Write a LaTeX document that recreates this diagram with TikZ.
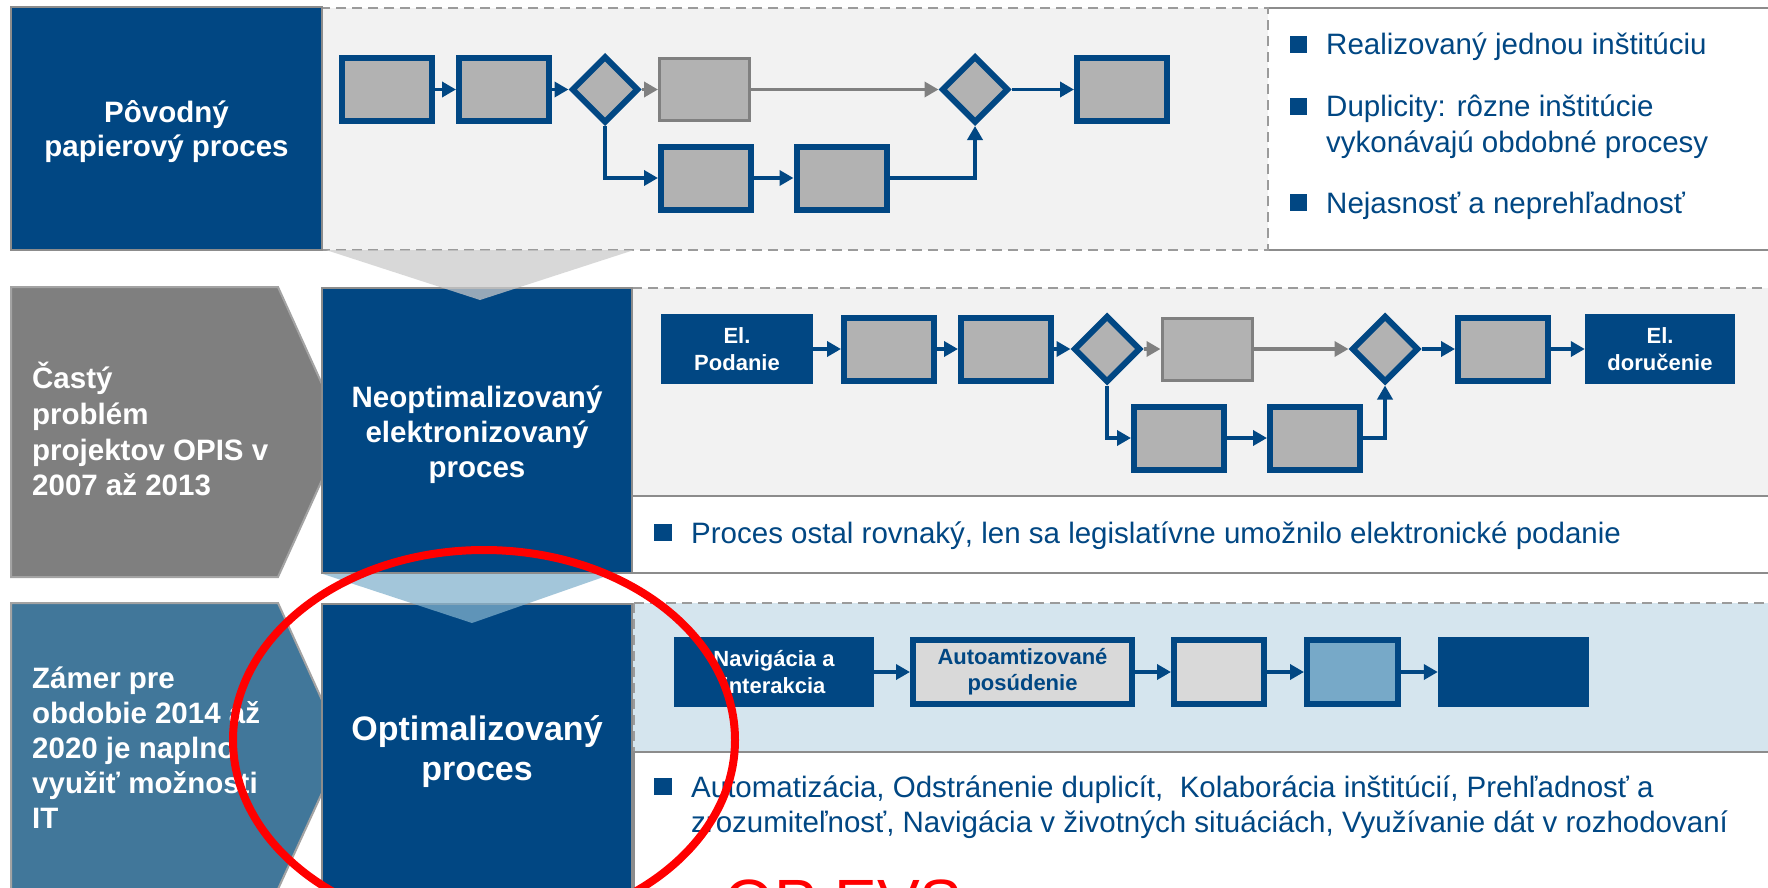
\documentclass[tikz,border=0pt]{standalone}
\usepackage{fontspec}
\setmainfont{Liberation Sans}
\usetikzlibrary{arrows.meta,shapes.geometric}
\definecolor{dblue}{RGB}{1,71,131}
\definecolor{panelgray}{RGB}{242,242,242}
\definecolor{boxgray}{RGB}{178,178,178}
\definecolor{linegray}{RGB}{140,140,140}
\definecolor{dashgray}{RGB}{155,155,155}
\definecolor{chevgray}{RGB}{127,127,127}
\definecolor{chevblue}{RGB}{65,119,154}
\definecolor{lightpanel}{RGB}{213,229,238}
\definecolor{lightbox}{RGB}{217,217,217}
\definecolor{midblue}{RGB}{119,169,200}
\definecolor{triA}{RGB}{203,203,203}
\definecolor{triB}{RGB}{130,177,205}
\definecolor{garrow}{RGB}{128,128,128}
\begin{document}
\begin{tikzpicture}[x=1pt,y=-1pt,
  bigbox/.style={fill=dblue, draw=linegray, line width=2pt, inner sep=0pt},
  pbox/.style={draw=dblue, line width=6pt, fill=boxgray, minimum width=90pt, minimum height=63pt, inner sep=0pt},
  gbox/.style={draw=garrow, line width=3pt, fill=boxgray, minimum width=90pt, minimum height=62pt, inner sep=0pt},
  dec/.style={diamond, aspect=1, draw=dblue, line width=6pt, fill=boxgray, minimum width=67pt, minimum height=67pt, inner sep=0pt},
  sbox/.style={fill=dblue, text=white, font=\bfseries\fontsize{22}{27}\selectfont, align=center, inner sep=0pt, minimum height=70pt},
  flow/.style={draw=dblue, line width=3.5pt, -{Triangle[length=14pt,width=15pt]}},
  gflow/.style={draw=garrow, line width=3.5pt, -{Triangle[length=14pt,width=15pt]}},
  wt/.style={text=white, font=\bfseries\fontsize{29.5}{35}\selectfont, inner sep=0pt},
  wtl/.style={text=white, font=\bfseries\fontsize{34}{40}\selectfont, inner sep=0pt, anchor=base},
  bt/.style={text=dblue, font=\fontsize{29.5}{35}\selectfont, inner sep=0pt, anchor=base west},
  dashedge/.style={draw=dashgray, line width=2.5pt, dash pattern=on 10pt off 6pt},
  solidedge/.style={draw=linegray, line width=2.5pt},
  bullet/.style={fill=dblue}
]
\useasboundingbox (0,0) rectangle (1768,888);
\clip (0,0) rectangle (1768,888);
\fill[white] (0,0) rectangle (1768,888);

% ---------------- Row 1
\fill[white] (1268,8) rectangle (1780,250);
\draw[solidedge] (1268,8) -- (1780,8) (1268,250) -- (1780,250);
\fill[panelgray] (322,8) rectangle (1268,250);
\draw[dashedge] (322,8) rectangle (1268,250);
\node[bigbox, minimum width=311pt, minimum height=243pt] (r1box) at (166.5,128.5) {};
\node[wt, anchor=base] (t1a) at (166.5,122) {Pôvodný};
\node[wt, anchor=base] (t1b) at (166.5,157) {papierový proces};

\node[pbox] (a1) at (387,89.5) {};
\node[pbox] (a2) at (504,89.5) {};
\node[dec] (ad1) at (605,89.5) {};
\node[gbox] (ag) at (704.5,89.5) {};
\node[dec] (ad2) at (975,89.5) {};
\node[pbox] (a3) at (1122,89.5) {};
\node[pbox] (al1) at (706,178) {};
\node[pbox] (al2) at (841.5,178) {};
\draw[flow] (a1) -- (a2);
\draw[flow] (a2) -- (ad1);
\draw[gflow] (ad1) -- (ag);
\draw[gflow] (ag) -- (ad2);
\draw[flow] (ad2) -- (a3);
\draw[flow] (ad1.south) |- (al1.west);
\draw[flow] (al1) -- (al2);
\draw[flow] (al2.east) -| (ad2.south);

\fill[bullet] (1290,36) rectangle (1307,53);
\fill[bullet] (1290,98) rectangle (1307,115);
\fill[bullet] (1290,194) rectangle (1307,211);
\node[bt] (r1l1) at (1326,55) {Realizovaný jednou inštitúciu};
\node[bt] (r1l2) at (1326,117) {Duplicity: rôzne inštitúcie};
\node[bt] (r1l3) at (1326,152) {vykonávajú obdobné procesy};
\node[bt] (r1l4) at (1326,213) {Nejasnosť a neprehľadnosť};

% ---------------- Row 2
\filldraw[fill=chevgray, draw=linegray!80, line width=2pt] (11,287) -- (278,287) -- (322,384) -- (322,480) -- (278,577) -- (11,577) -- cycle;
\node[wt, anchor=base west] (c2a) at (32,388) {Častý};
\node[wt, anchor=base west] (c2b) at (32,424) {problém};
\node[wt, anchor=base west] (c2c) at (32,460) {projektov OPIS v};
\node[wt, anchor=base west] (c2d) at (32,495) {2007 až 2013};

\fill[panelgray] (632,288) rectangle (1780,496);
\draw[dashedge] (632,288) -- (1780,288);
\draw[solidedge] (632,496) -- (1780,496);
\draw[solidedge] (632,573) -- (1780,573);
\node[bigbox, minimum width=310pt, minimum height=285pt] (r2box) at (477,430.5) {};
\node[wt, anchor=base] (t2a) at (477,407) {Neoptimalizovaný};
\node[wt, anchor=base] (t2b) at (477,442) {elektronizovaný};
\node[wt, anchor=base] (t2c) at (477,477) {proces};

\node[sbox, minimum width=152pt] (b0) at (737,349) {El.\\Podanie};
\node[pbox] (b1) at (889,349) {};
\node[pbox] (b2) at (1006,349) {};
\node[dec] (bd1) at (1107,349) {};
\node[gbox] (bg) at (1207,349) {};
\node[dec] (bd2) at (1385,349) {};
\node[pbox] (b5) at (1503,349) {};
\node[sbox, minimum width=150pt] (b6) at (1660,349) {El.\\doručenie};
\node[pbox] (bl1) at (1179,438) {};
\node[pbox] (bl2) at (1315,438) {};
\draw[flow] (b0) -- (b1);
\draw[flow] (b1) -- (b2);
\draw[flow] (b2) -- (bd1);
\draw[gflow] (bd1) -- (bg);
\draw[gflow] (bg) -- (bd2);
\draw[flow] (bd2) -- (b5);
\draw[flow] (b5) -- (b6);
\draw[flow] (bd1.south) |- (bl1.west);
\draw[flow] (bl1) -- (bl2);
\draw[flow] (bl2.east) -| (bd2.south);

\fill[bullet] (654,524) rectangle (672,541);
\node[bt] (r2l1) at (691,543) {Proces ostal rovnaký, len sa legislatívne umožnilo elektronické podanie};

% ---------------- Row 3
\filldraw[fill=chevblue, draw=linegray!80, line width=2pt] (11,603) -- (278,603) -- (322,700) -- (322,793) -- (273,900) -- (11,900) -- cycle;
\node[wt, anchor=base west] (c3a) at (32,688) {Zámer pre};
\node[wt, anchor=base west] (c3b) at (32,723) {obdobie 2014 až};
\node[wt, anchor=base west] (c3c) at (32,758) {2020 je naplno};
\node[wt, anchor=base west] (c3d) at (32,793) {využiť možnosti};
\node[wt, anchor=base west] (c3e) at (32,828) {IT};

\fill[lightpanel] (632,603) rectangle (1780,752);
\draw[dashedge] (634,603) -- (1780,603);
\draw[dashedge] (634,603) -- (634,752);
\draw[solidedge] (632,752) -- (1780,752);
\draw[solidedge] (634,752) -- (634,900);
\node[bigbox, minimum width=310pt, minimum height=296pt] (r3box) at (477,752) {};
\node[wtl] (t3a) at (477,740) {Optimalizovaný};
\node[wtl] (t3b) at (477,780) {proces};

\node[sbox, minimum width=200pt] (n1) at (774,672) {Navigácia a\\interakcia};
\node[pbox, fill=lightbox, minimum width=219pt, minimum height=64pt, text=dblue, font=\bfseries\fontsize{22}{26}\selectfont, align=center] (n2) at (1022.5,672) {Autoamtizované\\posúdenie};
\node[pbox, fill=lightbox, minimum height=64pt] (n3) at (1219,672) {};
\node[pbox, fill=midblue, minimum width=91pt, minimum height=64pt] (n4) at (1352.5,672) {};
\node[fill=dblue, minimum width=151pt, minimum height=70pt, inner sep=0pt] (n5) at (1513.5,672) {};
\draw[flow] (n1) -- (n2);
\draw[flow] (n2) -- (n3);
\draw[flow] (n3) -- (n4);
\draw[flow] (n4) -- (n5);

\fill[bullet] (654,778) rectangle (672,795);
\node[bt] (r3l1) at (691,797) {Automatizácia, Odstránenie duplicít,~ Kolaborácia inštitúcií, Prehľadnosť a};
\node[bt] (r3l2) at (691,832) {zrozumiteľnosť, Navigácia v životných situáciách, Využívanie dát v rozhodovaní};

% ---------------- connecting chevrons between rows
\fill[triA, opacity=0.74] (326,250) -- (634,250) -- (480,300) -- cycle;
\fill[triB, opacity=0.73] (323,574) -- (612,574) -- (472,623) -- cycle;

% ---------------- red annotation
\node[text=red, font=\fontsize{64}{72}\selectfont, anchor=base west, inner sep=0pt] (opevs) at (724,924) {OP EVS};
\draw[red, line width=8pt] (484,740) ellipse [x radius=251, y radius=190];
\end{tikzpicture}
\end{document}
